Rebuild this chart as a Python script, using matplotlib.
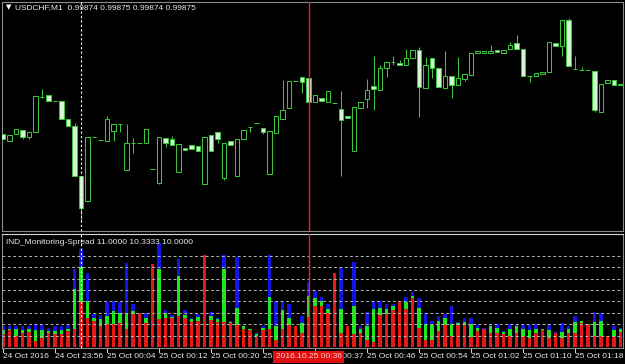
import numpy as np
import matplotlib
matplotlib.use('Agg')
import matplotlib.pyplot as plt
from matplotlib.transforms import blended_transform_factory

# USDCHF M1 candles (prices)
opens = [0.99825, 0.99818, 0.99825, 0.99829, 0.99822, 0.99827, 0.99862, 0.99864, 0.99858, 0.99858,
         0.99840, 0.99833, 0.99783, 0.99758, 0.99822, 0.99819, 0.99818, 0.99828, 0.99835, 0.99789,
         0.99816, 0.99816, 0.99816, 0.99790, 0.99776, 0.99821, 0.99820, 0.99787, 0.99811, 0.99814,
         0.99813, 0.99775, 0.99824, 0.99827, 0.99781, 0.99818, 0.99783, 0.99820, 0.99832, 0.99836,
         0.99831, 0.99785, 0.99826, 0.99840, 0.99851, 0.99878, 0.99882, 0.99881, 0.99857, 0.99861,
         0.99857, 0.99856, 0.99850, 0.99843, 0.99808, 0.99851, 0.99860, 0.99873, 0.99869, 0.99891,
         0.99897, 0.99896, 0.99894, 0.99901, 0.99909, 0.99871, 0.99901, 0.99891, 0.99871, 0.99883,
         0.99874, 0.99880, 0.99884, 0.99906, 0.99906, 0.99906, 0.99909, 0.99906, 0.99910, 0.99916,
         0.99910, 0.99883, 0.99883, 0.99885, 0.99887, 0.99916, 0.99913, 0.99939, 0.99890, 0.99889,
         0.99889, 0.99888, 0.99847, 0.99876, 0.99879, 0.99874]
highs = [0.99825, 0.99824, 0.99830, 0.99829, 0.99827, 0.99863, 0.99870, 0.99864, 0.99858, 0.99858,
         0.99840, 0.99836, 0.99783, 0.99822, 0.99822, 0.99819, 0.99843, 0.99835, 0.99835, 0.99835,
         0.99821, 0.99816, 0.99830, 0.99790, 0.99822, 0.99821, 0.99823, 0.99815, 0.99811, 0.99814,
         0.99813, 0.99822, 0.99824, 0.99827, 0.99816, 0.99818, 0.99820, 0.99829, 0.99832, 0.99836,
         0.99831, 0.99828, 0.99843, 0.99879, 0.99878, 0.99878, 0.99882, 0.99881, 0.99864, 0.99861,
         0.99868, 0.99856, 0.99868, 0.99843, 0.99852, 0.99857, 0.99880, 0.99903, 0.99894, 0.99897,
         0.99903, 0.99899, 0.99910, 0.99909, 0.99912, 0.99902, 0.99901, 0.99891, 0.99908, 0.99883,
         0.99902, 0.99885, 0.99906, 0.99908, 0.99908, 0.99914, 0.99909, 0.99909, 0.99917, 0.99924,
         0.99910, 0.99883, 0.99886, 0.99887, 0.99917, 0.99916, 0.99939, 0.99941, 0.99903, 0.99892,
         0.99889, 0.99888, 0.99875, 0.99879, 0.99879, 0.99875]
lows = [0.99820, 0.99818, 0.99825, 0.99820, 0.99820, 0.99827, 0.99861, 0.99858, 0.99858, 0.99840,
        0.99833, 0.99783, 0.99737, 0.99758, 0.99822, 0.99819, 0.99818, 0.99818, 0.99827, 0.99789,
        0.99806, 0.99816, 0.99816, 0.99790, 0.99775, 0.99812, 0.99814, 0.99787, 0.99809, 0.99810,
        0.99808, 0.99775, 0.99808, 0.99816, 0.99779, 0.99814, 0.99783, 0.99820, 0.99827, 0.99836,
        0.99825, 0.99785, 0.99826, 0.99840, 0.99851, 0.99878, 0.99866, 0.99857, 0.99857, 0.99858,
        0.99857, 0.99856, 0.99783, 0.99841, 0.99808, 0.99851, 0.99851, 0.99849, 0.99869, 0.99882,
        0.99894, 0.99894, 0.99894, 0.99901, 0.99842, 0.99871, 0.99881, 0.99872, 0.99871, 0.99861,
        0.99874, 0.99878, 0.99884, 0.99906, 0.99906, 0.99906, 0.99907, 0.99906, 0.99910, 0.99910,
        0.99883, 0.99877, 0.99883, 0.99885, 0.99887, 0.99913, 0.99903, 0.99893, 0.99890, 0.99889,
        0.99889, 0.99847, 0.99847, 0.99876, 0.99874, 0.99874]
closes = [0.99820, 0.99824, 0.99830, 0.99822, 0.99827, 0.99863, 0.99862, 0.99858, 0.99858, 0.99840,
          0.99833, 0.99783, 0.99751, 0.99822, 0.99822, 0.99819, 0.99840, 0.99835, 0.99835, 0.99816,
          0.99816, 0.99816, 0.99830, 0.99790, 0.99822, 0.99816, 0.99814, 0.99815, 0.99809, 0.99810,
          0.99808, 0.99822, 0.99808, 0.99820, 0.99816, 0.99814, 0.99820, 0.99829, 0.99832, 0.99836,
          0.99827, 0.99828, 0.99843, 0.99849, 0.99878, 0.99878, 0.99877, 0.99857, 0.99864, 0.99858,
          0.99868, 0.99856, 0.99839, 0.99841, 0.99852, 0.99857, 0.99869, 0.99870, 0.99891, 0.99897,
          0.99897, 0.99894, 0.99901, 0.99909, 0.99872, 0.99894, 0.99891, 0.99872, 0.99883, 0.99874,
          0.99881, 0.99885, 0.99906, 0.99908, 0.99908, 0.99908, 0.99907, 0.99909, 0.99914, 0.99910,
          0.99883, 0.99883, 0.99886, 0.99887, 0.99917, 0.99913, 0.99939, 0.99893, 0.99890, 0.99889,
          0.99889, 0.99849, 0.99875, 0.99879, 0.99874, 0.99875]

# IND_Monitoring-Spread: max (blue), average (green), min (red)
spread_max = [3.6, 3.7, 3.7, 3.6, 3.7, 4.0, 3.8, 3.4, 3.7, 3.7,
              3.8, 13.6, 17.1, 13.0, 5.7, 5.6, 7.8, 8.1, 7.8, 14.8,
              7.5, 6.0, 6.0, 14.5, 18.3, 6.5, 5.6, 15.5, 6.5, 5.0,
              5.7, 16.1, 6.1, 5.1, 16.1, 4.6, 15.7, 3.6, 3.2, 2.4,
              3.6, 16.1, 8.1, 8.1, 7.5, 3.6, 5.4, 11.3, 9.8, 8.8,
              7.5, 12.9, 13.9, 3.7, 14.9, 3.7, 6.1, 8.1, 8.1, 7.5,
              7.5, 7.8, 8.8, 9.6, 8.5, 6.0, 4.6, 5.4, 5.7, 7.2,
              4.4, 5.1, 5.0, 3.8, 3.4, 4.0, 4.0, 2.8, 4.0, 3.8,
              3.8, 3.8, 4.0, 3.2, 4.0, 2.6, 4.2, 3.7, 5.4, 4.6,
              4.0, 6.1, 6.0, 2.0, 3.7, 3.4]
spread_avg = [2.9, 3.2, 3.2, 3.0, 3.1, 2.9, 3.0, 2.8, 2.8, 3.0,
              3.1, 10.1, 14.1, 8.1, 5.1, 4.9, 5.4, 6.3, 6.0, 6.0,
              6.3, 6.0, 5.1, 14.5, 13.6, 5.9, 5.3, 12.5, 5.6, 4.9,
              5.3, 16.1, 5.4, 4.9, 13.7, 4.4, 6.9, 3.6, 3.1, 2.2,
              3.4, 8.8, 3.7, 6.5, 5.0, 3.6, 4.2, 8.9, 8.5, 8.1,
              6.6, 12.9, 6.6, 3.7, 7.2, 3.1, 3.7, 6.7, 6.9, 6.7,
              7.2, 7.8, 7.9, 8.9, 6.9, 4.0, 3.8, 4.6, 5.0, 4.0,
              4.2, 4.4, 4.0, 3.4, 3.2, 3.6, 3.4, 2.6, 3.2, 3.6,
              3.1, 3.0, 3.1, 3.1, 3.0, 2.5, 2.6, 3.2, 4.4, 4.6,
              4.0, 4.4, 4.6, 2.0, 3.0, 3.2]
spread_min = [2.2, 3.0, 2.0, 2.5, 2.6, 1.1, 1.6, 2.5, 2.2, 2.2,
              2.8, 3.2, 7.8, 5.1, 4.6, 3.7, 4.0, 4.0, 4.2, 3.1,
              5.7, 6.0, 4.2, 14.5, 4.9, 5.1, 5.1, 5.4, 5.1, 4.4,
              4.6, 16.1, 4.7, 4.4, 4.3, 4.2, 3.8, 3.2, 3.0, 2.0,
              3.0, 3.2, 1.3, 3.1, 3.8, 3.6, 2.5, 5.3, 7.2, 7.2,
              5.9, 12.9, 2.5, 3.7, 2.2, 2.5, 1.3, 0.9, 5.6, 5.7,
              6.5, 7.8, 6.6, 8.5, 3.4, 1.3, 1.2, 2.8, 3.8, 1.9,
              3.8, 3.8, 1.8, 2.8, 3.1, 2.5, 2.5, 2.2, 2.0, 2.5,
              2.0, 1.6, 2.5, 3.0, 1.6, 2.4, 1.6, 2.5, 2.5, 4.2,
              3.8, 1.9, 2.0, 1.9, 2.0, 2.6]

time_labels = ['24 Oct 2016', '24 Oct 23:56', '25 Oct 00:04', '25 Oct 00:12',
               '25 Oct 00:20', '25 Oct 00:28', '25 Oct 00:37', '25 Oct 00:46',
               '25 Oct 00:54', '25 Oct 01:02', '25 Oct 01:10', '25 Oct 01:18']
label_bars = [0, 8, 16, 24, 32, 40, 48, 56, 64, 72, 80, 88]
cursor_bar = 47
cursor_label = '2016.10.25 00:36'
cross_bar = 12

W, H = 625, 364
plt.rcParams['font.family'] = ['Liberation Sans', 'DejaVu Sans']
fig = plt.figure(figsize=(W / 100, H / 100), dpi=100, facecolor='black')


def px_axes(x0, y0, x1, y1):
    return fig.add_axes([x0 / W, 1 - y1 / H, (x1 - x0) / W, (y1 - y0) / H])


ax1 = px_axes(2, 2, 623, 231)
ax2 = px_axes(2, 234, 623, 348)
xlim = (-1 / 6.5, 620 / 6.5)
for ax in (ax1, ax2):
    ax.set_facecolor('black')
    ax.set_xlim(*xlim)
    ax.set_xticks([])
    ax.set_yticks([])
    for s in ax.spines.values():
        s.set_color('#8c8c8c')
        s.set_linewidth(0.8)
ax2.spines['top'].set_color('#d8d8d8')

o = np.array(opens)
h = np.array(highs)
l = np.array(lows)
c = np.array(closes)
x = np.arange(len(o))
green = '#3cc43c'
ax1.vlines(x, l, h, color=green, lw=0.75, zorder=2)
fill = ['black' if cc >= oo else '#d4f7d4' for oo, cc in zip(o, c)]
ax1.bar(x, np.abs(c - o), bottom=np.minimum(o, c), width=0.62,
        color=fill, edgecolor=green, linewidth=0.75, zorder=3)
ax1.set_ylim(0.99728, 0.99957)

ax2.bar(x, spread_max, width=0.6, color='#1414e6', zorder=2)
ax2.bar(x, spread_avg, width=0.6, color='#1ee61e', zorder=2)
ax2.bar(x, spread_min, width=0.6, color='#e61818', zorder=2)
ax2.set_ylim(-0.18, 19.8)
for v in range(2, 17, 2):
    ax2.axhline(v, color='#b4b4b4', ls=(0, (3, 2.5)), lw=0.7, zorder=4)

for ax in (ax1, ax2):
    ax.axvline(cross_bar, color='white', ls=(0, (2, 2)), lw=0.8, zorder=5)
    ax.axvline(cursor_bar, color='#e02828', lw=1.0, zorder=5)

fig.text(6 / W, 1 - 7.5 / H, '\u25bc', color='white', fontsize=5,
         family='DejaVu Sans', va='center', ha='left')
fig.text(15 / W, 1 - 7.5 / H, 'USDCHF,M1  0.99874 0.99875 0.99874 0.99875',
         color='#e8e8e8', fontsize=6, va='center', ha='left')
fig.text(6 / W, 1 - 243 / H, 'IND_Monitoring-Spread 11.0000 10.3333 10.0000',
         color='#e8e8e8', fontsize=6, va='center', ha='left', zorder=6)

trans = blended_transform_factory(ax2.transData, fig.transFigure)
for b, lab in zip(label_bars, time_labels):
    ax2.plot([b, b], [1 - 348 / H, 1 - 352 / H], color='#d0d0d0', lw=0.75,
             transform=trans, clip_on=False)
    ax2.text(b, 1 - 357 / H, lab, color='#e8e8e8', fontsize=6,
             va='center', ha='left', transform=trans)
ax2.text(cursor_bar, 1 - 357 / H, cursor_label, color='#ffd0d0', fontsize=6,
         va='center', ha='center', transform=trans, zorder=10,
         bbox=dict(boxstyle='square,pad=0.25', fc='#e01010', ec='none'))

fig.savefig('out.png', dpi=100, facecolor='black')
